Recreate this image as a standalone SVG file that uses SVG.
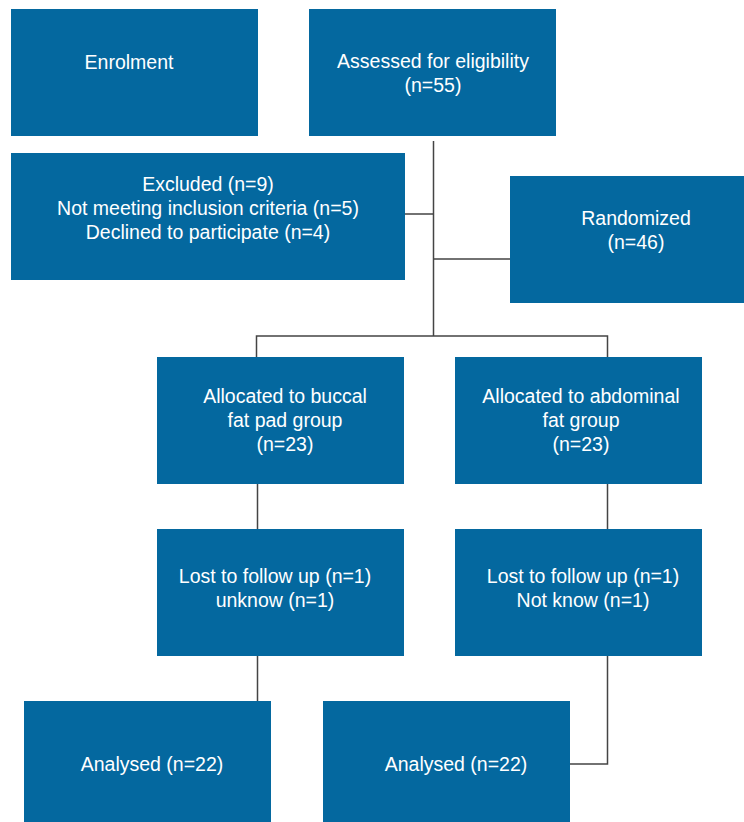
<svg xmlns="http://www.w3.org/2000/svg" width="744" height="822" viewBox="0 0 744 822">
<style>
.box{fill:#04689F}
.t{font-family:"Liberation Sans",Arial,sans-serif;font-size:19.5px;fill:#ffffff;text-anchor:middle}
.c{fill:none;stroke:#444444;stroke-width:1.5}
</style>
<rect width="744" height="822" fill="#ffffff"/>
<g id="connectors">
<path class="c" d="M433.5 141V336M405 214H433.5M433.5 259H510M256.5 357V336H607.5V357"/>
<path class="c" d="M257.5 484V529M607.5 484V529M257.5 656V701M607.5 656V764H570"/>
</g>
<g id="enrolment"><rect class="box" x="11" y="9" width="247" height="127"/><text class="t" x="129" y="69">Enrolment</text></g>
<g id="assessed"><rect class="box" x="309" y="9" width="247" height="127"/><text class="t" x="433" y="68">Assessed for eligibility</text><text class="t" x="433" y="92">(n=55)</text></g>
<g id="excluded"><rect class="box" x="11" y="153" width="394" height="127"/><text class="t" x="208" y="191">Excluded (n=9)</text><text class="t" x="208" y="215">Not meeting inclusion criteria (n=5)</text><text class="t" x="208" y="239">Declined to participate (n=4)</text></g>
<g id="randomized"><rect class="box" x="510" y="176" width="234" height="127"/><text class="t" x="636" y="225">Randomized</text><text class="t" x="636" y="249">(n=46)</text></g>
<g id="alloc-buccal"><rect class="box" x="157" y="357" width="247" height="127"/><text class="t" x="285" y="403">Allocated to buccal</text><text class="t" x="285" y="427">fat pad group</text><text class="t" x="285" y="451">(n=23)</text></g>
<g id="alloc-abdominal"><rect class="box" x="455" y="357" width="247" height="127"/><text class="t" x="581" y="403">Allocated to abdominal</text><text class="t" x="581" y="427">fat group</text><text class="t" x="581" y="451">(n=23)</text></g>
<g id="lost-buccal"><rect class="box" x="157" y="529" width="247" height="127"/><text class="t" x="275" y="583">Lost to follow up (n=1)</text><text class="t" x="275" y="607">unknow (n=1)</text></g>
<g id="lost-abdominal"><rect class="box" x="455" y="529" width="247" height="127"/><text class="t" x="583" y="583">Lost to follow up (n=1)</text><text class="t" x="583" y="607">Not know (n=1)</text></g>
<g id="analysed-buccal"><rect class="box" x="24" y="701" width="247" height="121"/><text class="t" x="152" y="771">Analysed (n=22)</text></g>
<g id="analysed-abdominal"><rect class="box" x="323" y="701" width="247" height="121"/><text class="t" x="456" y="771">Analysed (n=22)</text></g>
</svg>
